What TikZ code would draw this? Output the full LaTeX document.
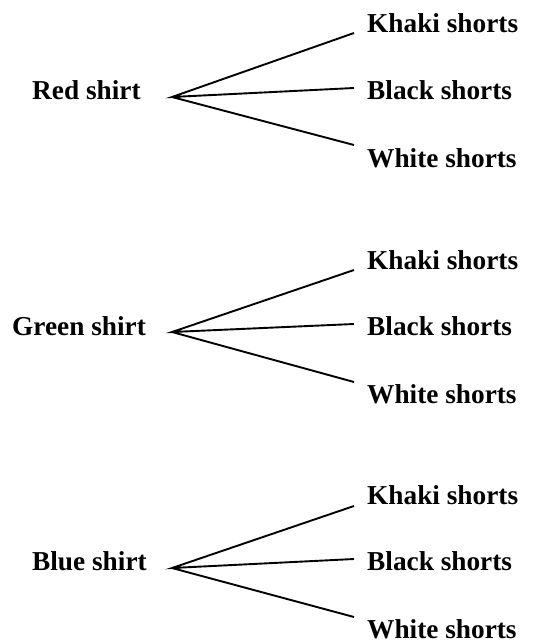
\documentclass[tikz,border=0pt]{standalone}
\usepackage{fontspec}
\setmainfont{Liberation Serif}
\begin{document}
\begin{tikzpicture}[x=1pt,y=-1pt,
  lbl/.style={anchor=base west,inner sep=0pt,font=\fontsize{27.3}{30}\selectfont\bfseries},
  branch/.style={line width=1.9pt}]
\useasboundingbox (0,0) rectangle (554,643);
% first shirt
\node[lbl] (red) at (32,99) {Red shirt};
\coordinate (r0) at (172,97);
\coordinate (r1) at (354,33);
\coordinate (r2) at (354,88);
\coordinate (r3) at (354,145);
\node[lbl] (rk) at (367,32) {Khaki shorts};
\node[lbl] (rb) at (367,99) {Black shorts};
\node[lbl] (rw) at (367,167) {White shorts};
\draw[branch] (r1) -- (r0) -- (r2) (r0) -- (r3);
% second shirt
\node[lbl] (green) at (12,335) {Green shirt};
\coordinate (g0) at (172,332);
\coordinate (g1) at (354,270);
\coordinate (g2) at (354,324);
\coordinate (g3) at (354,382);
\node[lbl] (gk) at (367,269) {Khaki shorts};
\node[lbl] (gb) at (367,335) {Black shorts};
\node[lbl] (gw) at (367,403) {White shorts};
\draw[branch] (g1) -- (g0) -- (g2) (g0) -- (g3);
% third shirt
\node[lbl] (blue) at (32,570) {Blue shirt};
\coordinate (b0) at (172,568);
\coordinate (b1) at (354,506);
\coordinate (b2) at (354,559);
\coordinate (b3) at (354,617);
\node[lbl] (bk) at (367,504) {Khaki shorts};
\node[lbl] (bb) at (367,570) {Black shorts};
\node[lbl] (bw) at (367,638) {White shorts};
\draw[branch] (b1) -- (b0) -- (b2) (b0) -- (b3);
\end{tikzpicture}
\end{document}
